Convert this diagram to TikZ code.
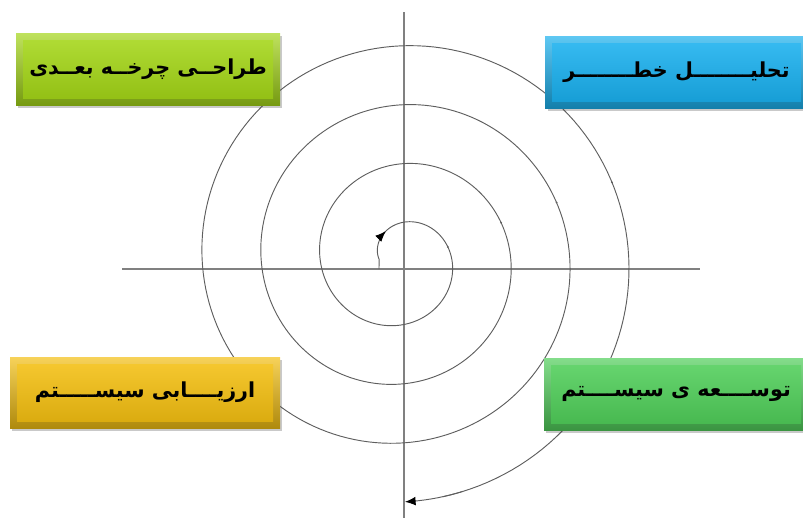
\documentclass[tikz,border=0pt]{standalone}
\usepackage{fontspec}
\newfontfamily\arabicfont[Script=Arabic]{DejaVu Sans}
\TeXXeTstate=1
\usetikzlibrary{shadows,arrows.meta,calc}
\definecolor{axisgray}{HTML}{808080}
\definecolor{spiralgray}{HTML}{5E5E5E}
\definecolor{limeC}{HTML}{A4D618}
\definecolor{blueC}{HTML}{1AB0EE}
\definecolor{goldC}{HTML}{F3BF12}
\definecolor{greenC}{HTML}{50CE5A}
\tikzset{
  axisline/.style={draw=axisgray, line width=1.1pt},
  spiral/.style={draw=spiralgray, line width=0.7pt},
  tip/.style={-{Latex[length=8pt,width=6.5pt,color=black]}},
  outerbox/.style={rectangle, inner sep=0pt, draw=none,
     top color=#1!70!white, bottom color=#1!72!black,
     drop shadow={shadow xshift=1.8pt, shadow yshift=-2.2pt, opacity=0.3, fill=black!70}},
  innerbox/.style={rectangle, inner sep=0pt, draw=none,
     top color=#1!88!white, bottom color=#1!90!black,
     font=\arabicfont\bfseries\fontsize{15.5}{17}\selectfont, text=black},
}
% spiral: centre (400.7,259.2), radius grows 59 per turn
\def\spx#1{400.7-(21.6+0.163889*#1)*cos(#1)}
\def\spy#1{259.2-(21.6+0.163889*#1)*sin(#1)}
\begin{document}
\begin{tikzpicture}[x=0.75pt,y=-0.75pt]
\useasboundingbox (0,0) rectangle (803,518);
% axes
\draw[axisline] (404,12) -- (404,518);
\draw[axisline] (122,269) -- (700,269);
% spiral
\coordinate (s0) at (379,269);
\draw[spiral] (s0) -- plot[domain=0:1340, samples=600, variable=\t] ({\spx{\t}},{\spy{\t}});
\draw[spiral,tip] plot[domain=50:62, samples=8, variable=\t] ({\spx{\t}},{\spy{\t}});
\draw[spiral,tip] plot[domain=1335:1349, samples=10, variable=\t] ({\spx{\t}},{\spy{\t}});
% joint marks
\foreach \a in {165.5,520,880,1240}
  \fill[spiralgray] ({\spx{\a}},{\spy{\a}}) circle[radius=1];
% boxes
\node[outerbox=limeC, minimum width=198pt, minimum height=54pt] (tlo) at (148,69) {};
\node[innerbox=limeC, minimum width=187.5pt, minimum height=43.5pt] (tl) at (148,69) {\beginR طراحــی چرخــه بعــدی\endR};
\node[outerbox=blueC, minimum width=197pt, minimum height=54pt] (tro) at (676.5,72) {};
\node[innerbox=blueC, minimum width=186.5pt, minimum height=43.5pt] (tr) at (676.5,72) {\beginR تحلیــــــــل خطــــــــر\endR};
\node[outerbox=goldC, minimum width=202.5pt, minimum height=53.25pt] (blo) at (145,392.5) {};
\node[innerbox=goldC, minimum width=192pt, minimum height=42.75pt] (bl) at (145,392.5) {\beginR ارزیــــابی سیســـــتم\endR};
\node[outerbox=greenC, minimum width=198pt, minimum height=54pt] (bro) at (676,394) {};
\node[innerbox=greenC, minimum width=187.5pt, minimum height=43.5pt] (br) at (676,394) {\beginR توســــعه ی سیســــتم\endR};
\end{tikzpicture}
\end{document}
